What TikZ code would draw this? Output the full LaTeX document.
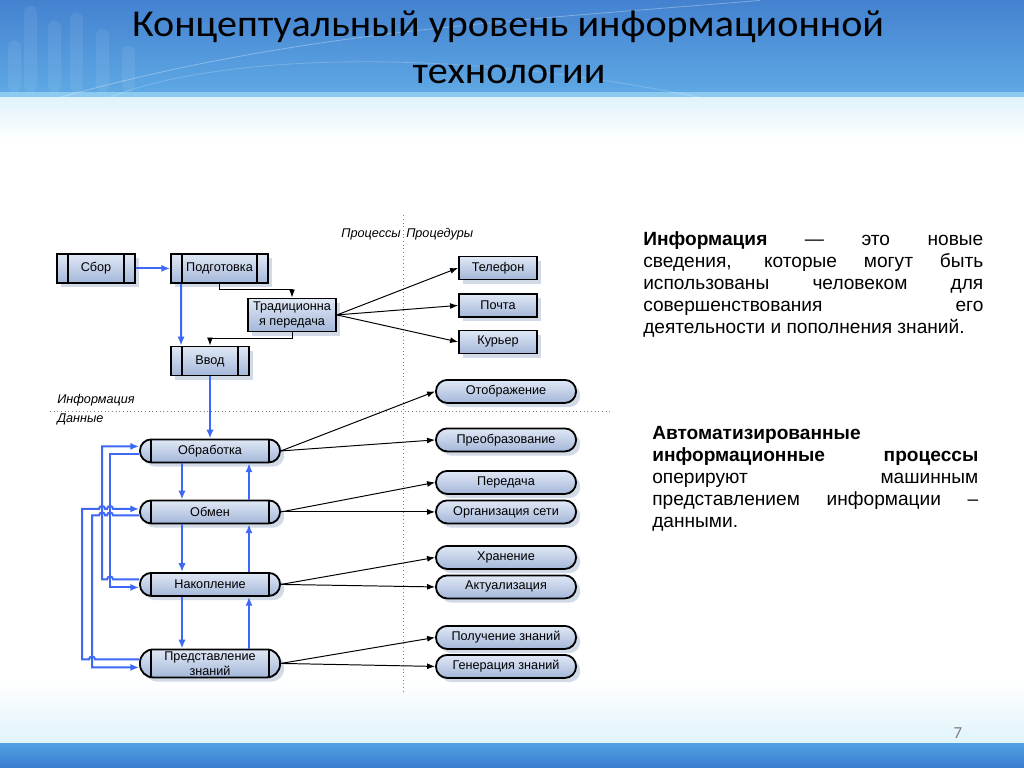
\documentclass[tikz,border=0pt]{standalone}
\usepackage{fontspec}
\setmainfont{Liberation Sans}
\newfontfamily\titlefont{Carlito}
\usetikzlibrary{arrows.meta,calc,shadows}

\definecolor{flowblue}{RGB}{60,104,245}
\definecolor{boxtop}{RGB}{224,232,245}
\definecolor{boxbot}{RGB}{164,183,217}
\definecolor{shadowgray}{RGB}{205,214,228}
\definecolor{headtop}{RGB}{68,130,208}
\definecolor{headbot}{RGB}{94,168,228}
\definecolor{headline}{RGB}{140,202,240}
\definecolor{paleblue}{RGB}{224,243,251}
\definecolor{foottop}{RGB}{82,160,228}
\definecolor{footbot}{RGB}{58,126,208}

\begin{document}
\begin{tikzpicture}[x=0.025cm, y=-0.025cm,
	box/.style={draw=black, line width=1.3pt, top color=boxtop, bottom color=boxbot,
		font=\fontsize{9}{10.5}\selectfont, inner sep=0pt, align=center,
		drop shadow={shadow xshift=3pt, shadow yshift=-3pt, fill=shadowgray, opacity=.9}},
	bars/.style={path picture={\draw[line width=1.3pt]
		([xshift=#1]path picture bounding box.north west) -- ([xshift=#1]path picture bounding box.south west)
		([xshift=-#1]path picture bounding box.north east) -- ([xshift=-#1]path picture bounding box.south east);}},
	procbox/.style={box, bars=0.27cm, minimum height=0.725cm},
	plainbox/.style={box, minimum width=1.95cm, minimum height=0.575cm},
	stagebox/.style={box, bars=0.27cm, rounded corners=0.28cm, minimum width=3.5cm, minimum height=0.575cm},
	opbox/.style={box, rounded corners=0.28cm, minimum width=3.5cm, minimum height=0.575cm},
	bluearrow/.style={flowblue, line width=1.4pt, -{Latex[length=2.2mm,width=1.8mm]}},
	thinarrow/.style={black, line width=0.7pt, -{Latex[length=2mm,width=1.5mm]}},
	sepline/.style={gray, dotted, line width=0.6pt},
	lbl/.style={font=\fontsize{9}{10}\selectfont\itshape, inner sep=0pt},
	para/.style={font=\fontsize{13.6}{15.6}\selectfont, align=justify, inner sep=0pt},
	titletext/.style={font=\titlefont\fontsize{27}{34}\selectfont, anchor=base}]

	% slide background
	\fill[white] (0,0) rectangle (1024,767);
	\shade[top color=paleblue, bottom color=white] (0,97) rectangle (1024,140);
	\shade[top color=white, bottom color=paleblue] (0,680) rectangle (1024,743);
	\shade[top color=headtop, bottom color=headbot] (0,0) rectangle (1024,92);
	\fill[headline] (0,92) rectangle (1024,97);
	\shade[top color=foottop, bottom color=footbot] (0,743) rectangle (1024,767);
	\foreach \bx/\bt in {8/40, 24/5, 48/20, 70/12, 96/28, 122/45}
		\fill[white, opacity=.07, rounded corners=5pt] (\bx,\bt) rectangle ++(13,92-\bt);
	\draw[white, opacity=.3, line width=0.6pt] (60,97) .. controls (300,30) and (520,20) .. (760,0);
	\draw[white, opacity=.2, line width=0.6pt] (110,97) .. controls (200,60) and (420,40) .. (700,97);

	% title
	\node[titletext] (title1) at (508,36) {\scalebox{1.055}[1]{Концептуальный уровень информационной}};
	\node[titletext] (title2) at (509,83) {\scalebox{1.055}[1]{технологии}};

	% separators
	\draw[sepline] (403,215) -- (403,692);
	\draw[sepline] (50,411) -- (612,411);
	\node[lbl, anchor=east] (proc) at (401,234) {Процессы};
	\node[lbl, anchor=west] (procd) at (406,234) {Процедуры};
	\node[lbl, anchor=west] (infolbl) at (57,400) {Информация};
	\node[lbl, anchor=west] (datalbl) at (57,419) {Данные};

	% upper part
	\node[procbox, minimum width=1.95cm] (sbor) at (96,268) {Сбор};
	\node[procbox, minimum width=2.425cm] (podg) at (219.5,268) {Подготовка};
	\node[box, minimum width=2.2cm, minimum height=0.825cm] (trad) at (292,314.5) {Традиционна\\я передача};
	\node[procbox, minimum width=1.95cm] (vvod) at (210,360.5) {Ввод};
	\node[plainbox] (tel) at (498,267.5) {Телефон};
	\node[plainbox] (pochta) at (498,305) {Почта};
	\node[plainbox] (kur) at (498,341.5) {Курьер};

	% lower part
	\node[stagebox] (obr) at (210,450.5) {Обработка};
	\node[stagebox] (obmen) at (210,511.5) {Обмен};
	\node[stagebox] (nak) at (210,584) {Накопление};
	\node[stagebox, minimum height=0.7cm, rounded corners=0.33cm] (pred) at (210,663) {Представление\\знаний};
	\node[opbox] (otobr) at (506,391) {Отображение};
	\node[opbox] (preobr) at (506,439.5) {Преобразование};
	\node[opbox] (pered) at (506,482) {Передача};
	\node[opbox] (orgset) at (506,511.5) {Организация сети};
	\node[opbox] (hran) at (506,557) {Хранение};
	\node[opbox] (aktual) at (506,586.5) {Актуализация};
	\node[opbox] (poluch) at (506,637) {Получение знаний};
	\node[opbox] (gener) at (506,666) {Генерация знаний};

	% connectors
	\draw[bluearrow] (sbor) -- (podg);
	\draw[bluearrow] ($(podg.south west)+(11,0)$) -- ($(vvod.north west)+(11,0)$);
	\draw[thinarrow] (podg.south) -- ++(0,6) -| (trad.north);
	\draw[thinarrow] (trad.south) -- ++(0,6) -| (vvod.north);
	\draw[bluearrow] (vvod) -- (obr);
	\draw[thinarrow] (trad.east) -- (tel.west);
	\draw[thinarrow] (trad.east) -- (pochta.west);
	\draw[thinarrow] (trad.east) -- (kur.west);

	\draw[thinarrow] (obr.east) -- (otobr.west);
	\draw[thinarrow] (obr.east) -- (preobr.west);
	\draw[thinarrow] (obmen.east) -- (pered.west);
	\draw[thinarrow] (obmen.east) -- (orgset.west);
	\draw[thinarrow] (nak.east) -- (hran.west);
	\draw[thinarrow] (nak.east) -- (aktual.west);
	\draw[thinarrow] (pred.east) -- (poluch.west);
	\draw[thinarrow] (pred.east) -- (gener.west);

	\draw[bluearrow] ($(obr.south)+(-28,0)$) -- ($(obmen.north)+(-28,0)$);
	\draw[bluearrow] ($(obmen.north)+(39,0)$) -- ($(obr.south)+(39,0)$);
	\draw[bluearrow] ($(obmen.south)+(-28,0)$) -- ($(nak.north)+(-28,0)$);
	\draw[bluearrow] ($(nak.north)+(39,0)$) -- ($(obmen.south)+(39,0)$);
	\draw[bluearrow] ($(nak.south)+(-28,0)$) -- ($(pred.north)+(-28,0)$);
	\draw[bluearrow] ($(pred.north)+(39,0)$) -- ($(nak.south)+(39,0)$);

	% feedback lines with hops
	\draw[bluearrow] ($(obr.west)+(0,3)$) -- ++(-29,0) |- ($(nak.west)+(0,3)$);
	\draw[bluearrow] ($(nak.west)+(0,-5)$) -- ++(-26,0) arc[start angle=0,end angle=-180,radius=3]
		-- ++(-5,0) |- ($(obr.west)+(0,-4.5)$);
	\draw[bluearrow] ($(obmen.west)+(0,3.5)$) -- ++(-26,0) arc[start angle=0,end angle=-180,radius=3]
		-- ++(-2,0) arc[start angle=0,end angle=-180,radius=3] -- ++(-7,0) |- ($(pred.west)+(0,4)$);
	\draw[bluearrow] ($(pred.west)+(0,-4)$) -- ++(-44,0) arc[start angle=0,end angle=-180,radius=3]
		-- ++(-7,0) -- ++(0,-150.5) -- ++(17,0) arc[start angle=180,end angle=360,radius=3]
		-- ++(2,0) arc[start angle=180,end angle=360,radius=3] -- ($(obmen.west)+(0,-3)$);

	% text on the right
	\node[para, anchor=north west, text width=8.5cm] (infotext) at (643,231)
		{\textbf{Информация} — это новые\linebreak сведения, которые могут быть\linebreak использованы человеком для\linebreak совершенствования его\linebreak деятельности и пополнения знаний.};
	\node[para, anchor=north west, text width=8.15cm] (autotext) at (652,426)
		{\textbf{Автоматизированные}\newline \textbf{информационные процессы}\linebreak оперируют машинным\linebreak представлением информации –\linebreak данными.};

	\node[text=gray, font=\titlefont\fontsize{12}{14}\selectfont] (pnum) at (958,733) {7};
\end{tikzpicture}
\end{document}
